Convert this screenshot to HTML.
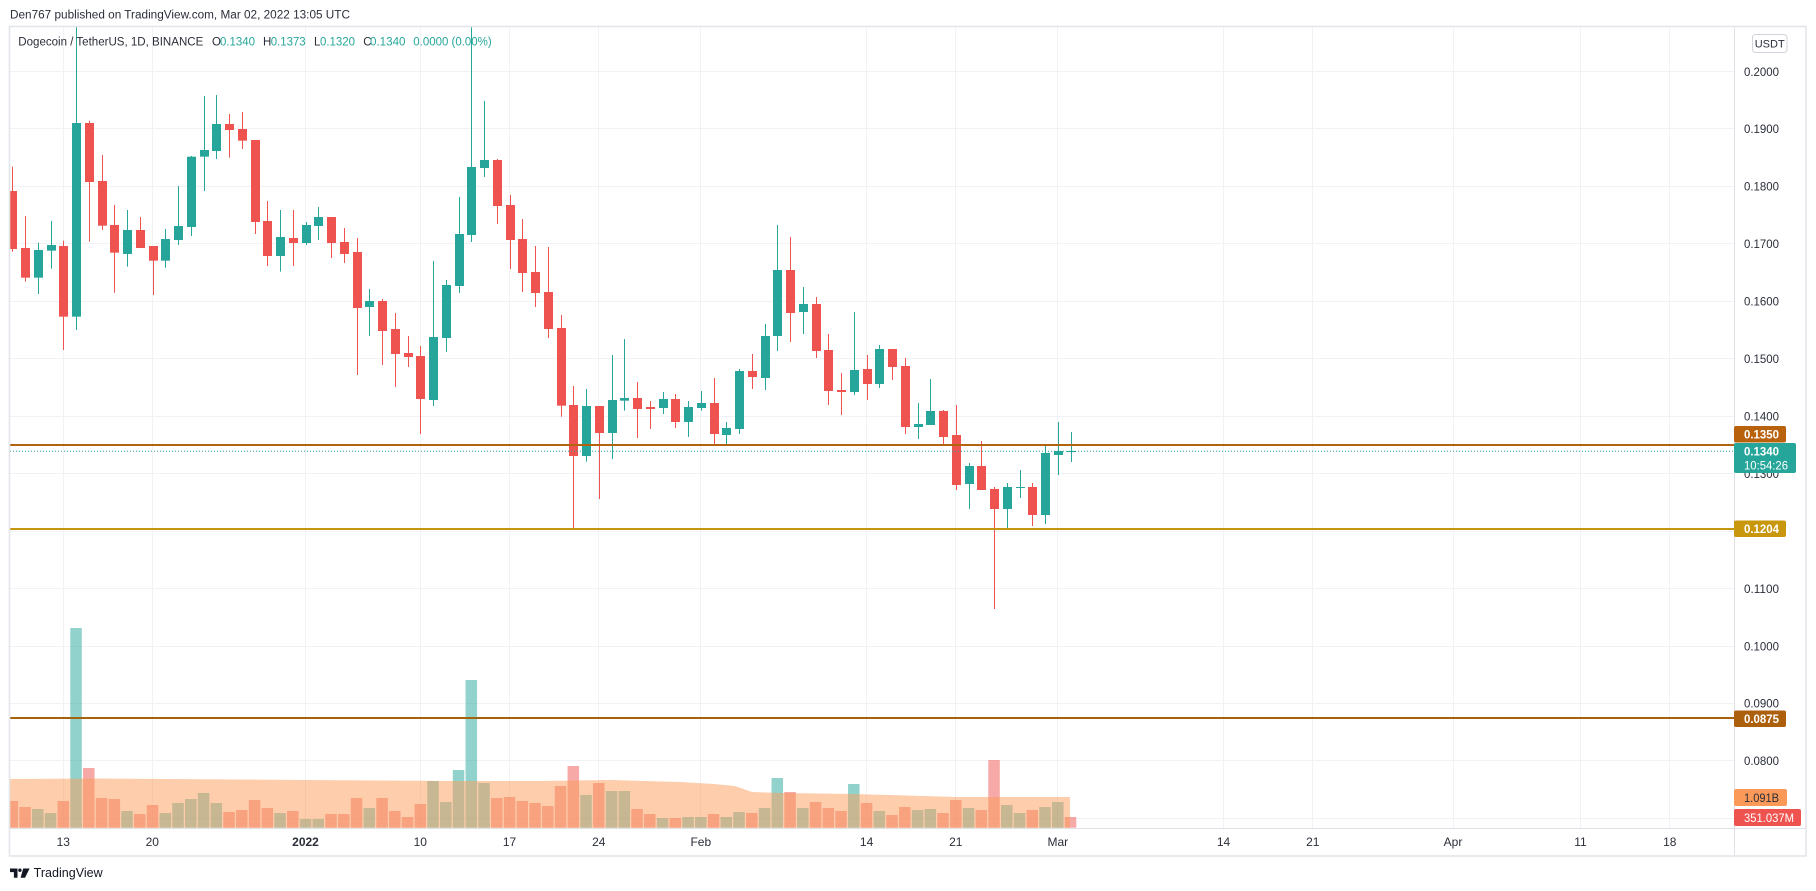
<!DOCTYPE html>
<html><head><meta charset="utf-8">
<style>html,body{margin:0;padding:0;background:#fff;width:1816px;height:891px;overflow:hidden}svg{display:block}</style>
</head><body>
<svg id="s" width="1816" height="891" viewBox="0 0 1816 891" xmlns="http://www.w3.org/2000/svg" font-family="'Liberation Sans', Arial, sans-serif">
<defs><clipPath id="cp"><rect x="10" y="27" width="1724" height="801"/></clipPath></defs>
<rect width="1816" height="891" fill="#fff"/>
<text x="10" y="18.3" font-size="11.5" fill="#2a2e39" textLength="340" lengthAdjust="spacingAndGlyphs">Den767 published on TradingView.com, Mar 02, 2022 13:05 UTC</text>
<g stroke="#f0f2f5" stroke-width="1">
<path d="M63.5 27V828M152.5 27V828M305.5 27V828M420.5 27V828M509.5 27V828M598.5 27V828M700.5 27V828M866.5 27V828M955.5 27V828M1057.5 27V828M1223.5 27V828M1312.5 27V828M1453.5 27V828M1580.5 27V828M1669.5 27V828"/>
<path d="M10 71.5H1734M10 128.5H1734M10 186.5H1734M10 243.5H1734M10 301.5H1734M10 358.5H1734M10 416.5H1734M10 473.5H1734M10 531.5H1734M10 588.5H1734M10 646.5H1734M10 703.5H1734M10 760.5H1734M10 818.5H1734"/>
</g>
<g id="vol" clip-path="url(#cp)"></g>
<path clip-path="url(#cp)" d="M10 779L100 778.5L300 780L450 781L540 781L610 780L680 782L714 784L735 786L752 792L783 793L853 794L888 795L922 796L957 797L1070 797L1070 827.7L10 827.7Z" fill="rgb(251,155,89)" fill-opacity="0.5"/>
<g id="cdl" clip-path="url(#cp)"></g>
<line x1="10" y1="451.3" x2="1734" y2="451.3" stroke="#26a69a" stroke-width="1" stroke-dasharray="1,2"/>
<rect x="10" y="444" width="1724" height="2" fill="#b3620f"/>
<rect x="10" y="528" width="1724" height="2" fill="#c4960f"/>
<rect x="10" y="717" width="1724" height="2" fill="#a5620c"/>
<!-- frame -->
<rect x="9.5" y="26.5" width="1796.5" height="829.5" fill="none" stroke="#e3e5e9" stroke-width="1.6"/>
<line x1="1734.5" y1="27" x2="1734.5" y2="856" stroke="#dfe1e6" stroke-width="1"/>
<line x1="10" y1="828.5" x2="1806" y2="828.5" stroke="#dfe1e6" stroke-width="1"/>
<!-- legend -->
<g font-size="11.5">
<text x="18.3" y="45.7" fill="#2a2e39" textLength="185" lengthAdjust="spacingAndGlyphs">Dogecoin / TetherUS, 1D, BINANCE</text>
<text x="212" y="45.7" fill="#2a2e39">O</text><text x="220" y="45.7" fill="#26a69a" textLength="35" lengthAdjust="spacingAndGlyphs">0.1340</text>
<text x="263" y="45.7" fill="#2a2e39">H</text><text x="270.7" y="45.7" fill="#26a69a" textLength="35" lengthAdjust="spacingAndGlyphs">0.1373</text>
<text x="314" y="45.7" fill="#2a2e39">L</text><text x="320" y="45.7" fill="#26a69a" textLength="35" lengthAdjust="spacingAndGlyphs">0.1320</text>
<text x="363.3" y="45.7" fill="#2a2e39">C</text><text x="370" y="45.7" fill="#26a69a" textLength="35.5" lengthAdjust="spacingAndGlyphs">0.1340</text>
<text x="413.3" y="45.7" fill="#26a69a" textLength="78.4" lengthAdjust="spacingAndGlyphs">0.0000 (0.00%)</text>
</g>
<!-- price axis -->
<rect x="1752.5" y="34.5" width="34.5" height="18" rx="3" fill="#fff" stroke="#d1d4dc"/>
<text x="1769.7" y="47.3" font-size="11" fill="#2a2e39" text-anchor="middle">USDT</text>
<g font-size="12" fill="#2a2e39">
<text x="1744" y="75.8" textLength="35" lengthAdjust="spacingAndGlyphs">0.2000</text>
<text x="1744" y="133.2" textLength="35" lengthAdjust="spacingAndGlyphs">0.1900</text>
<text x="1744" y="190.7" textLength="35" lengthAdjust="spacingAndGlyphs">0.1800</text>
<text x="1744" y="248.1" textLength="35" lengthAdjust="spacingAndGlyphs">0.1700</text>
<text x="1744" y="305.6" textLength="35" lengthAdjust="spacingAndGlyphs">0.1600</text>
<text x="1744" y="363" textLength="35" lengthAdjust="spacingAndGlyphs">0.1500</text>
<text x="1744" y="420.5" textLength="35" lengthAdjust="spacingAndGlyphs">0.1400</text>
<text x="1744" y="477.9" textLength="35" lengthAdjust="spacingAndGlyphs">0.1300</text>
<text x="1744" y="535.4" textLength="35" lengthAdjust="spacingAndGlyphs">0.1200</text>
<text x="1744" y="592.8" textLength="35" lengthAdjust="spacingAndGlyphs">0.1100</text>
<text x="1744" y="650.3" textLength="35" lengthAdjust="spacingAndGlyphs">0.1000</text>
<text x="1744" y="707.7" textLength="35" lengthAdjust="spacingAndGlyphs">0.0900</text>
<text x="1744" y="765.2" textLength="35" lengthAdjust="spacingAndGlyphs">0.0800</text>
</g>
<rect x="1734" y="426" width="52" height="16.5" rx="2" fill="#b8620e"/>
<text x="1744" y="438.6" font-size="12" font-weight="bold" fill="#fff" textLength="35" lengthAdjust="spacingAndGlyphs">0.1350</text>
<rect x="1734" y="443" width="62" height="30" rx="2" fill="#26a69a"/>
<text x="1744" y="455.3" font-size="12" font-weight="bold" fill="#fff" textLength="35" lengthAdjust="spacingAndGlyphs">0.1340</text>
<text x="1744" y="469.6" font-size="12" fill="#fff" textLength="44" lengthAdjust="spacingAndGlyphs">10:54:26</text>
<rect x="1734" y="520.5" width="52" height="16.5" rx="2" fill="#c8970c"/>
<text x="1744" y="533.2" font-size="12" font-weight="bold" fill="#fff" textLength="35" lengthAdjust="spacingAndGlyphs">0.1204</text>
<rect x="1734" y="710.5" width="52" height="16.5" rx="2" fill="#ad600c"/>
<text x="1744" y="723.2" font-size="12" font-weight="bold" fill="#fff" textLength="35" lengthAdjust="spacingAndGlyphs">0.0875</text>
<rect x="1734" y="789" width="53" height="17" rx="2" fill="#fb9a58"/>
<text x="1744" y="801.8" font-size="12" fill="#2a2e39" textLength="35" lengthAdjust="spacingAndGlyphs">1.091B</text>
<rect x="1734" y="809" width="67" height="17" rx="2" fill="#ef5350"/>
<text x="1744" y="821.8" font-size="12" fill="#fff" textLength="50" lengthAdjust="spacingAndGlyphs">351.037M</text>
<!-- time axis -->
<g font-size="12" fill="#2a2e39" text-anchor="middle">
<text x="63.3" y="846">13</text>
<text x="152.3" y="846">20</text>
<text x="305.5" y="846" font-weight="bold">2022</text>
<text x="420.3" y="846">10</text>
<text x="509.5" y="846">17</text>
<text x="598.8" y="846">24</text>
<text x="700.8" y="846">Feb</text>
<text x="866.6" y="846">14</text>
<text x="955.8" y="846">21</text>
<text x="1057.8" y="846">Mar</text>
<text x="1223.5" y="846">14</text>
<text x="1312.8" y="846">21</text>
<text x="1453" y="846">Apr</text>
<text x="1580.5" y="846">11</text>
<text x="1669.8" y="846">18</text>
</g>
<!-- logo -->
<g fill="#131722">
<path d="M10 868.5h7.5v9.2h-3.6v-5.6h-3.9z"/>
<circle cx="19.9" cy="870.2" r="1.7"/>
<path d="M23.2 868.5h6.4l-4.6 9.2h-4.4z"/>
</g>
<text x="33.7" y="876.8" font-size="12.5" fill="#131722" textLength="69" lengthAdjust="spacingAndGlyphs">TradingView</text>
</svg>
<script>
(function(){
var X=function(d){return 63.3+12.75*d;};
var G='#26a69a',R='#ef5350';
var sets=[
[20,[[-4,'R',513,687,440,695],[-3,'R',684,773,588,785],[-2,'G',690,773,668,822],[-1,'G',675,692,603,746],[0,'R',678,890,662,990],[1,'G',309,890,20,930],[2,'R',309,486,302,665],[3,'R',483,617,405,630],[4,'R',615,698,555,818],[5,'G',630,702,570,740],[6,'R',630,684,591,684],[7,'R',678,722,678,825],[8,'G',657,722,627,743],[9,'G',618,660,498,675],[10,'G',410,621,408,648],[11,'G',390,410,228,513],[12,'G',312,393,225,417],[13,'R',312,330,282,413],[14,'R',327,362,276,387],[15,'R',360,606,360,642],[16,'R',603,708,543,738]]],
[20,[[17,'G',651,708,570,755],[18,'R',654,669,570,738],[19,'G',615,669,606,675],[20,'G',591,618,561,660],[21,'R',591,669,591,714],[22,'R',666,702,624,729],[23,'R',696,864,654,1065],[24,'G',843,861,807,948],[25,'R',843,933,837,1035],[26,'R',927,1002,879,1101],[27,'R',999,1011,948,1041],[28,'R',1008,1137,978,1242],[29,'G',951,1140,723,1158],[30,'G',795,954,780,996],[31,'G',642,798,531,819],[32,'G',441,645,20,666],[33,'G',420,444,243,471],[34,'R',420,558,417,612],[35,'R',555,660,525,747],[36,'R',657,759,597,816],[37,'R',756,819,678,861],[38,'R',816,927,681,954]]],
[180,[[39,'R',444,677,405,710],[40,'R',675,828,618,1050],[41,'G',678,828,627,845],[42,'R',678,759,678,957],[43,'G',660,759,525,837],[44,'G',654,662,477,692],[45,'R',654,687,606,774],[46,'R',681,687,663,747],[47,'G',657,684,636,702],[48,'R',657,726,642,744],[49,'G',681,726,663,771],[50,'G',669,684,633,692],[51,'R',669,762,594,792],[52,'G',744,765,726,798],[53,'G',573,747,567,762],[54,'R',573,591,522,627],[55,'G',468,594,432,630],[56,'G',270,468,135,513],[57,'R',270,399,171,486],[58,'G',372,396,321,462],[59,'R',372,513,351,534],[60,'R',510,633,462,675]]],
[280,[[61,'R',330,336,279,405],[62,'G',270,336,96,345],[63,'R',267,312,225,360],[64,'G',207,312,195,324],[65,'R',207,261,207,300],[66,'R',258,441,234,462],[67,'G',432,441,369,477],[68,'G',393,435,297,435],[69,'R',393,471,390,492],[70,'R',465,615,375,630],[71,'G',558,612,549,687],[72,'R',558,630,483,630],[73,'R',627,687,621,987],[74,'G',621,687,609,744],[75,'G',621,624,570,654],[76,'R',621,705,609,738],[77,'G',519,705,498,732],[78,'G',513,525,426,585],[79,'G',513,516,456,546]]]
];
var s='';
sets.forEach(function(st){var off=st[0];st[1].forEach(function(c){
 var col=c[1]=='G'?G:R; var xi=Math.round(X(c[0]));
 var bt=off+c[2]/3,bb=off+c[3]/3,wt=off+c[4]/3,wb=off+c[5]/3;
 s+='<rect x="'+xi+'" y="'+wt.toFixed(2)+'" width="1" height="'+(wb-wt).toFixed(2)+'" fill="'+col+'"/>';
 s+='<rect x="'+(xi-4)+'" y="'+bt.toFixed(2)+'" width="9" height="'+Math.max(1,bb-bt).toFixed(2)+'" fill="'+col+'"/>';
});});
document.getElementById('cdl').innerHTML=s;
var vols='R543 R561 G567 G579 R543 G24 R444 R534 R537 G573 R582 R555 G579 G549 G537 G519 G549 R576 R570 R540 R564 G579 R573 G597 G597 R582 R582 R534 G564 R534 R573 R591 R552 G483 G546 G450 G180 G489 R534 R531 R543 R549 R558 R498 R438 G525 R489 G513 G513 R567 R582 G594 R594 G591 G591 R582 G591 G576 R579 G564 G474 R516 G564 R546 R564 R573 G492 R549 G573 R585 R561 G570 G567 R579 R540 G564 R570 R420 G555 G579 R570 G561 G546 R591'.split(' ');
var v='';
vols.forEach(function(t,i){var d=i-4;var col=t[0]=='G'?'rgba(38,166,154,0.5)':'rgba(239,83,80,0.5)';
 var y=620+parseInt(t.slice(1))/3;var x=X(d)-5.75;
 v+='<rect x="'+x.toFixed(2)+'" y="'+y.toFixed(2)+'" width="11.5" height="'+(827.7-y).toFixed(2)+'" fill="'+col+'"/>';
});
document.getElementById('vol').innerHTML=v;
})();
</script>
</body></html>
